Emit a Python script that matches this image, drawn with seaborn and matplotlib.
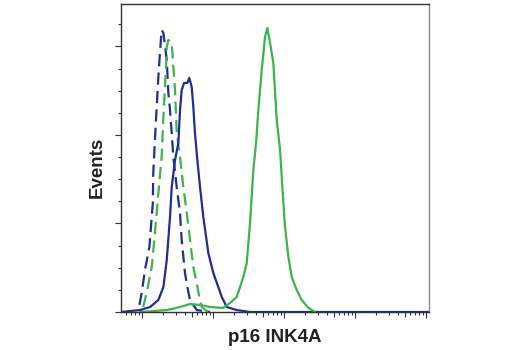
import numpy as np
import pandas as pd
import matplotlib
matplotlib.use("Agg")
import matplotlib.pyplot as plt
from matplotlib.ticker import FixedLocator, NullFormatter, MultipleLocator
import seaborn as sns

# Fluorescence intensity (x) and event counts (y) for each histogram
iso_navy_x = [92, 99, 110, 127, 142, 144, 152, 161, 170, 180, 189, 200, 223, 235, 248,
              262, 276, 308, 343, 362, 403, 435, 474, 589, 908]
iso_navy_y = [4.0, 10.7, 23.7, 36.7, 61.6, 78.5, 97.2, 115.8, 132.8, 148.0, 159.3, 157.6,
              142.4, 123.7, 114.1, 101.1, 87.6, 70.6, 55.9, 40.7, 22.0, 14.1, 6.8, 1.1, 0.0]

iso_green_x = [104, 116, 137, 152, 170, 189, 200, 218, 223, 235, 262, 276, 292, 308, 343,
               382, 427, 474, 528, 589, 641, 693, 851]
iso_green_y = [2.8, 10.7, 25.4, 44.6, 67.2, 87.6, 110.2, 138.4, 149.7, 153.7, 152.0, 138.4,
               125.4, 101.1, 87.6, 70.6, 55.9, 40.7, 25.4, 16.4, 8.5, 2.8, 0.0]

p16_navy_x = [51, 94, 130, 170, 200, 223, 248, 262, 292, 325, 343, 362, 391, 435, 463, 501,
              528, 557, 601, 656, 730, 859, 1010, 1188, 1326, 1561, 2158, 3319, 1.08e6]
p16_navy_y = [0.0, 1.1, 2.8, 6.8, 14.1, 29.4, 53.7, 70.6, 85.9, 95.5, 114.1, 125.4, 129.4,
              129.4, 132.2, 127.1, 115.8, 101.1, 85.9, 70.6, 53.7, 33.3, 22.0, 14.1, 8.5,
              2.8, 1.1, 0.0, 0.0]

p16_green_x = [94, 223, 308, 474, 656, 908, 1384, 1734, 2158, 2675, 2985, 3319, 3698, 4036,
               4349, 4853, 5397, 5821, 6355, 7067, 7889, 8788, 9590, 10330, 11510, 12830,
               15090, 17750, 21990, 27350]
p16_green_y = [0.0, 1.1, 2.3, 4.5, 4.0, 2.8, 2.3, 5.1, 8.5, 19.8, 27.7, 50.3, 80.2, 95.5,
               114.1, 136.7, 155.4, 160.5, 152.0, 140.7, 108.5, 91.5, 67.2, 48.0, 31.1,
               19.8, 12.4, 6.8, 2.3, 0.0]

x_label = "p16 INK4A"
y_label = "Events"

navy = "#1f2d94"
green = "#3cb44b"

sns.set_style("ticks")
plt.rcParams["font.family"] = ["DejaVu Sans Condensed", "Liberation Sans Narrow",
                               "Liberation Sans", "DejaVu Sans"]

fig = plt.figure(figsize=(5.2, 3.5), dpi=100)
ax = fig.add_axes([0.2327, 0.1086, 0.5923, 0.88])

series = [
    (iso_navy_x, iso_navy_y, navy, (0, (5.5, 2.8))),
    (iso_green_x, iso_green_y, green, (0, (5.5, 2.8))),
    (p16_navy_x, p16_navy_y, navy, "-"),
    (p16_green_x, p16_green_y, green, "-"),
]
for xs, ys, col, ls in series:
    df = pd.DataFrame({"x": xs, "y": ys})
    sns.lineplot(data=df, x="x", y="y", ax=ax, color=col, linestyle=ls,
                 linewidth=1.6, estimator=None, sort=True)

ax.set_xscale("log")
ax.set_xlim(50.6, 1.1e6)
ax.set_ylim(0, 174)

# Decade and half-decade ticks as majors, remaining log subdivisions as minors
decades = [1e2, 1e3, 1e4, 1e5, 1e6]
halves = [5e2, 5e3, 5e4, 5e5]
major = sorted(decades + halves)
minor = [m * d for d in [1e1, 1e2, 1e3, 1e4, 1e5] for m in (2, 3, 4, 6, 7, 8, 9)]
ax.xaxis.set_major_locator(FixedLocator(major))
ax.xaxis.set_minor_locator(FixedLocator(minor))
ax.xaxis.set_major_formatter(NullFormatter())
ax.xaxis.set_minor_formatter(NullFormatter())
ax.yaxis.set_major_locator(MultipleLocator(50))
ax.yaxis.set_minor_locator(MultipleLocator(12.5))
ax.yaxis.set_major_formatter(NullFormatter())

tick_col = "#333333"
ax.tick_params(axis="both", which="major", direction="out", length=4.5, width=0.8,
               color=tick_col)
ax.tick_params(axis="both", which="minor", direction="out", length=2.5, width=0.8,
               color=tick_col)
fig.canvas.draw()
for loc, tick in zip(ax.xaxis.get_majorticklocs(), ax.xaxis.get_major_ticks()):
    if loc in halves:
        tick.tick1line.set_markersize(3.5)

for side in ["left", "bottom", "top", "right"]:
    ax.spines[side].set_visible(True)
    ax.spines[side].set_linewidth(1.0)
    ax.spines[side].set_color("#333333")
ax.spines["right"].set_color("#888888")

ax.set_xlabel(x_label, fontsize=13.5, fontweight="bold", color="#222222",
              fontstretch="condensed", va="center")
ax.set_ylabel(y_label, fontsize=13.5, fontweight="bold", color="#222222",
              fontstretch="condensed", va="center")
ax.xaxis.set_label_coords(0.5, -0.084)
ax.yaxis.set_label_coords(-0.078, 0.47)

fig.savefig("out.png", dpi=100, facecolor="white")
